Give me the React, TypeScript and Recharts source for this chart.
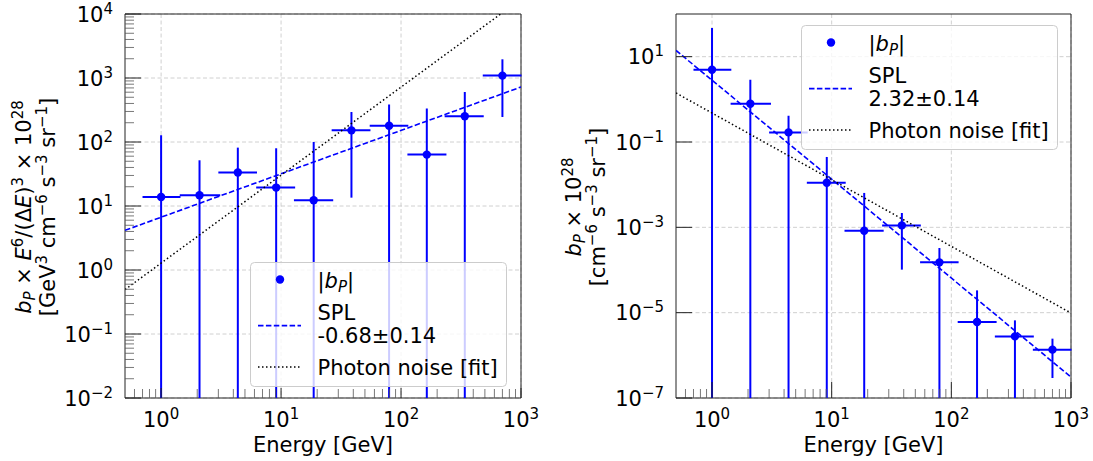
import type { ReactNode } from 'react';
import {
  ComposedChart,
  Scatter,
  Line,
  XAxis,
  YAxis,
  ErrorBar,
  CartesianGrid,
  ReferenceArea,
  Legend,
} from 'recharts';

const FONT = 'DejaVu Sans, sans-serif';
const BLUE = '#0000ff';
const FS = 21;
const FS_SMALL = 15;

// energy bins [GeV], same for both panels
const energy = [1.0, 2.09, 4.36, 9.1, 18.7, 38.6, 79.5, 164, 340, 700];
const binLow = [0.7, 1.43, 3.0, 6.2, 12.8, 26.4, 54.8, 113, 231, 480];
const binHigh = [1.45, 3.11, 6.3, 13.1, 27.2, 55.6, 115, 239, 489, 1010];

// left panel: b_P x E^6/(dE)^3  (lower bars that run off the axis end at its floor)
const leftValue = [13.8, 14.7, 33.3, 19.4, 12.3, 152, 180, 63.5, 252, 1090];
const leftUpper = [127, 51.8, 81.7, 79.8, 100, 294, 384, 333, 604, 1960];
const leftLower = [1e-2, 1e-2, 1e-2, 1e-2, 1e-2, 13.5, 1e-2, 1e-2, 1e-2, 246];

// right panel: b_P
const rightValue = [4.95, 0.79, 0.168, 0.0111, 8.3e-4, 1.11e-3, 1.51e-4, 6.05e-6, 2.78e-6, 1.36e-6];
const rightUpper = [47, 2.88, 0.414, 0.0446, 6.4e-3, 2.17e-3, 3.28e-4, 3.33e-5, 6.6e-6, 2.46e-6];
const rightLower = [1e-7, 1e-7, 1e-7, 1e-7, 1e-7, 1.02e-4, 1e-7, 1e-7, 1e-7, 2.94e-7];

// fit lines, end points at the x limits
const fitEnergy = [0.5, 1000];
const leftSpl = [4.17, 723];
const leftNoise = [0.494, 17100];
const rightSpl = [14.0, 3.1e-7];
const rightNoise = [1.41, 9.8e-6];

const leftIndex = '-0.68±0.14';
const rightIndex = '2.32±0.14';

const xDomain = [0.5, 1000];
const xMajor = [1, 10, 100, 1000];
const xMinor = [
  0.6, 0.7, 0.8, 0.9, 2, 3, 4, 5, 6, 7, 8, 9, 20, 30, 40, 50, 60, 70, 80, 90,
  200, 300, 400, 500, 600, 700, 800, 900,
];
const leftYDomain = [1e-2, 1e4];
const leftYMajor = [1e-2, 1e-1, 1, 10, 100, 1000, 1e4];
const rightYDomain = [1e-7, 1e2];
const rightYMajor = [1e-7, 1e-5, 1e-3, 1e-1, 10];

const minorsOf = (decades: number[]) =>
  decades.slice(0, -1).flatMap((d) => [2, 3, 4, 5, 6, 7, 8, 9].map((m) => m * d));
const leftYMinor = minorsOf(leftYMajor);

const toPoints = (value: number[], lower: number[], upper: number[]) =>
  energy.map((x, i) => ({
    x,
    y: value[i],
    ex: [x - binLow[i], binHigh[i] - x],
    ey: [value[i] - lower[i], upper[i] - value[i]],
  }));

const toFit = (ys: number[]) => fitEnergy.map((x, i) => ({ x, y: ys[i] }));

function expText(v: number) {
  const e = Math.round(Math.log10(v));
  return e < 0 ? '\u2212' + -e : String(e);
}

// mathtext-like runs: italic, superscript, subscript
type Seg = { t: string; it?: boolean; sup?: boolean; sub?: boolean };
function runs(list: Seg[]) {
  let shift = 0;
  return list.map((s, i) => {
    const target = s.sup ? -8 : s.sub ? 4 : 0;
    const dy = target - shift;
    shift = target;
    return (
      <tspan
        key={i}
        dy={dy || undefined}
        fontStyle={s.it ? 'italic' : undefined}
        fontSize={s.sup || s.sub ? FS_SMALL : undefined}
      >
        {s.t}
      </tspan>
    );
  });
}

function XTick(props: any) {
  const { x, y, payload, majorLen } = props;
  const major = xMajor.includes(payload.value);
  return (
    <g>
      <line
        x1={x}
        x2={x}
        y1={y}
        y2={y - (major ? majorLen : 9)}
        stroke={major ? '#222' : '#555'}
        strokeWidth={major ? 1 : 0.8}
      />
      {major && (
        <text x={x} y={y + 28.5} textAnchor="middle" fontFamily={FONT} fontSize={FS} fill="#000">
          10
          <tspan fontSize={FS_SMALL} dy={-8}>
            {expText(payload.value)}
          </tspan>
        </text>
      )}
    </g>
  );
}

function YTick(props: any) {
  const { x, y, payload, majors } = props;
  const major = majors.includes(payload.value);
  return (
    <g>
      <line
        x1={x}
        x2={x + (major ? 16 : 9)}
        y1={y}
        y2={y}
        stroke={major ? '#222' : '#555'}
        strokeWidth={major ? 1 : 0.8}
      />
      {major && (
        <text x={x - 12} y={y + 7.6} textAnchor="end" fontFamily={FONT} fontSize={FS} fill="#000">
          10
          <tspan fontSize={FS_SMALL} dy={-8}>
            {expText(payload.value)}
          </tspan>
        </text>
      )}
    </g>
  );
}

function LegendBox({ index }: { index: string }) {
  return (
    <svg width={258} height={126} style={{ display: 'block' }}>
      <rect x={0.5} y={0.5} width={256} height={124} rx={4} fill="#fff" fillOpacity={0.8} stroke="#cccccc" />
      <circle cx={30} cy={17.5} r={4.2} fill={BLUE} />
      <line x1={8} x2={51} y1={63.6} y2={63.6} stroke={BLUE} strokeWidth={1.6} strokeDasharray="5.5 2.4" />
      <line x1={8} x2={51} y1={105} y2={105} stroke="#000" strokeWidth={1.5} strokeDasharray="1.5 2.5" />
      <g fontFamily={FONT} fontSize={FS} fill="#000">
        <text x={67.5} y={26}>
          {runs([{ t: '|' }, { t: 'b', it: true }, { t: 'P', it: true, sub: true }, { t: '|' }])}
        </text>
        <text x={67.5} y={57.5}>SPL</text>
        <text x={67.5} y={81.3}>{index}</text>
        <text x={67.5} y={112.8}>Photon noise [fit]</text>
      </g>
    </svg>
  );
}

const leftTitle1 = runs([
  { t: 'b', it: true },
  { t: 'P', it: true, sub: true },
  { t: ' × ' },
  { t: 'E', it: true },
  { t: '6', sup: true },
  { t: '/(Δ' },
  { t: 'E', it: true },
  { t: ')' },
  { t: '3', sup: true },
  { t: ' × 10' },
  { t: '28', sup: true },
]);
const leftTitle2 = runs([
  { t: '[GeV' },
  { t: '3', sup: true },
  { t: ' cm' },
  { t: '\u22126', sup: true },
  { t: ' s' },
  { t: '\u22123', sup: true },
  { t: ' sr' },
  { t: '\u22121', sup: true },
  { t: ']' },
]);
const rightTitle1 = runs([
  { t: 'b', it: true },
  { t: 'P', it: true, sub: true },
  { t: ' × 10' },
  { t: '28', sup: true },
]);
const rightTitle2 = runs([
  { t: '[cm' },
  { t: '\u22126', sup: true },
  { t: ' s' },
  { t: '\u22123', sup: true },
  { t: ' sr' },
  { t: '\u22121', sup: true },
  { t: ']' },
]);

interface PanelProps {
  left: number;
  width: number;
  yAxisWidth: number;
  marginRight: number;
  yDomain: number[];
  yMajor: number[];
  yMinor: number[];
  xMajorLen: number;
  data: ReturnType<typeof toPoints>;
  spl: { x: number; y: number }[];
  noise: { x: number; y: number }[];
  index: string;
  legendPos: number[];
  title1: ReactNode;
  title2: ReactNode;
}

function Panel(p: PanelProps) {
  const plotCenterX = p.yAxisWidth + (p.width - p.marginRight - p.yAxisWidth) / 2;
  return (
    <div style={{ position: 'absolute', left: p.left, top: 0 }}>
      <ComposedChart width={p.width} height={461} margin={{ top: 14, right: p.marginRight, bottom: 0, left: 0 }}>
        <CartesianGrid
          horizontalValues={p.yMajor}
          verticalValues={xMajor}
          stroke="#c4c4c4"
          strokeDasharray="4 2.5"
          strokeWidth={0.8}
        />
        <XAxis
          type="number"
          dataKey="x"
          scale="log"
          domain={xDomain}
          allowDataOverflow
          ticks={[...xMajor, ...xMinor]}
          interval={0}
          axisLine={false}
          tickLine={false}
          tickSize={0}
          tickMargin={0}
          height={63}
          tick={(t: any) => <XTick {...t} majorLen={p.xMajorLen} />}
          label={() => (
            <text x={plotCenterX} y={451.5} textAnchor="middle" fontFamily={FONT} fontSize={FS} fill="#000">
              Energy [GeV]
            </text>
          )}
        />
        <YAxis
          type="number"
          dataKey="y"
          scale="log"
          domain={p.yDomain}
          allowDataOverflow
          ticks={[...p.yMajor, ...p.yMinor]}
          interval={0}
          axisLine={false}
          tickLine={false}
          tickSize={0}
          tickMargin={0}
          width={p.yAxisWidth}
          tick={(t: any) => <YTick {...t} majors={p.yMajor} />}
          label={() => (
            <g fontFamily={FONT} fontSize={FS} fill="#000">
              <text transform="translate(30.5 207) rotate(-90)" textAnchor="middle">
                {p.title1}
              </text>
              <text transform="translate(54.5 207) rotate(-90)" textAnchor="middle">
                {p.title2}
              </text>
            </g>
          )}
        />
        <Scatter
          data={p.data}
          fill={BLUE}
          isAnimationActive={false}
          shape={(s: any) => <circle cx={s.cx} cy={s.cy} r={4.2} fill={BLUE} />}
        >
          <ErrorBar
            dataKey={(d: any) => d.ex ?? d.payload?.ex}
            direction="x"
            width={0}
            stroke={BLUE}
            strokeWidth={2}
          />
          <ErrorBar
            dataKey={(d: any) => d.ey ?? d.payload?.ey}
            direction="y"
            width={0}
            stroke={BLUE}
            strokeWidth={2}
          />
        </Scatter>
        <Line
          data={p.spl}
          dataKey="y"
          stroke={BLUE}
          strokeWidth={1.6}
          strokeDasharray="5.5 2.4"
          dot={false}
          isAnimationActive={false}
        />
        <Line
          data={p.noise}
          dataKey="y"
          stroke="#000"
          strokeWidth={1.5}
          strokeDasharray="1.5 2.5"
          dot={false}
          isAnimationActive={false}
        />
        <ReferenceArea
          x1={xDomain[0]}
          x2={xDomain[1]}
          y1={p.yDomain[0]}
          y2={p.yDomain[1]}
          fill="none"
          stroke="#222"
          strokeWidth={1}
          ifOverflow="visible"
        />
        <Legend
          layout="vertical"
          align="center"
          verticalAlign="middle"
          wrapperStyle={{ left: p.legendPos[0], top: p.legendPos[1] }}
          content={() => <LegendBox index={p.index} />}
        />
      </ComposedChart>
    </div>
  );
}

export default function App() {
  return (
    <div
      style={{
        position: 'absolute',
        left: 0,
        top: 0,
        width: 1093,
        height: 461,
        background: '#fff',
        overflow: 'hidden',
      }}
    >
      <Panel
        left={0}
        width={540}
        yAxisWidth={125}
        marginRight={19}
        yDomain={leftYDomain}
        yMajor={leftYMajor}
        yMinor={leftYMinor}
        xMajorLen={10}
        data={toPoints(leftValue, leftLower, leftUpper)}
        spl={toFit(leftSpl)}
        noise={toFit(leftNoise)}
        index={leftIndex}
        legendPos={[250, 261.5]}
        title1={leftTitle1}
        title2={leftTitle2}
      />
      <Panel
        left={550}
        width={543}
        yAxisWidth={126}
        marginRight={22}
        yDomain={rightYDomain}
        yMajor={rightYMajor}
        yMinor={[]}
        xMajorLen={16}
        data={toPoints(rightValue, rightLower, rightUpper)}
        spl={toFit(rightSpl)}
        noise={toFit(rightNoise)}
        index={rightIndex}
        legendPos={[251, 25]}
        title1={rightTitle1}
        title2={rightTitle2}
      />
    </div>
  );
}
